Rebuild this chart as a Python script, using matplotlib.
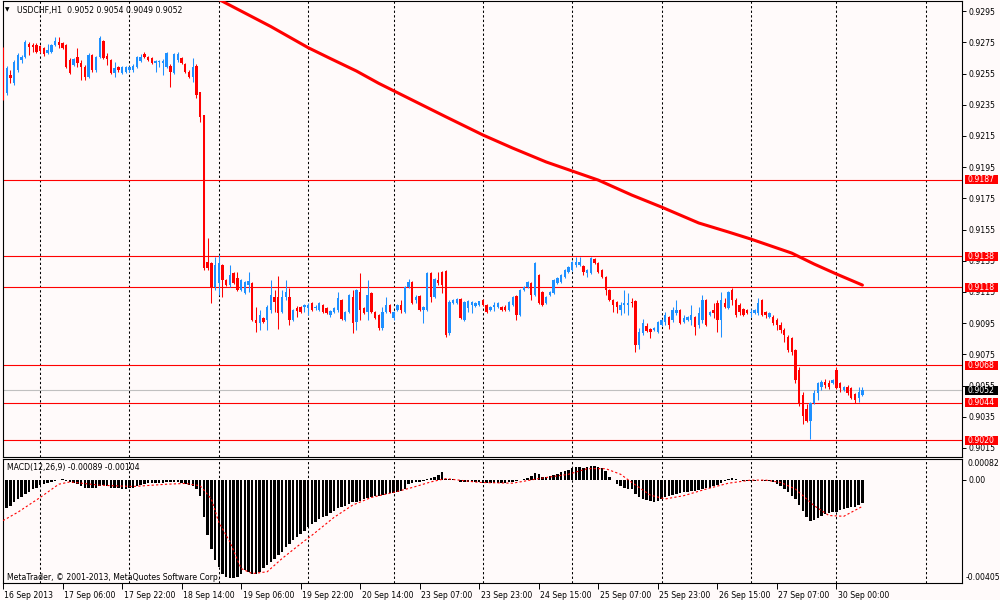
import matplotlib
matplotlib.use('Agg')
import matplotlib.pyplot as plt
import matplotlib.transforms as mtransforms
from matplotlib.patches import Rectangle
import numpy as np

plt.rcParams['font.family'] = ['DejaVu Sans']
FS = 5.6

# ---------------- data (USDCHF H1) ----------------
opens = [0.92700, 0.92425, 0.92540, 0.92489, 0.92572, 0.92636, 0.92656, 0.92739, 0.92732, 0.92732,
         0.92726, 0.92713, 0.92681, 0.92688, 0.92732, 0.92752, 0.92745, 0.92732, 0.92636, 0.92604,
         0.92656, 0.92617, 0.92592, 0.92527, 0.92668, 0.92572, 0.92656, 0.92758, 0.92662, 0.92636,
         0.92553, 0.92592, 0.92553, 0.92559, 0.92572, 0.92572, 0.92592, 0.92630, 0.92675, 0.92656,
         0.92649, 0.92617, 0.92624, 0.92617, 0.92592, 0.92598, 0.92553, 0.92636, 0.92649, 0.92611,
         0.92559, 0.92527, 0.92598, 0.92431, 0.92284, 0.91342, 0.91335, 0.91181, 0.91207, 0.91322,
         0.91226, 0.91194, 0.91271, 0.91239, 0.91162, 0.91143, 0.91194, 0.91207, 0.90970, 0.90951,
         0.90983, 0.90970, 0.91034, 0.91117, 0.91117, 0.91021, 0.91117, 0.91117, 0.90970, 0.91047,
         0.91053, 0.91053, 0.91047, 0.91079, 0.91047, 0.91034, 0.91066, 0.91047, 0.91002, 0.91021,
         0.91034, 0.91098, 0.90970, 0.91021, 0.91117, 0.90957, 0.91149, 0.91047, 0.91021, 0.91143,
         0.91021, 0.91002, 0.90919, 0.91021, 0.91066, 0.90983, 0.91034, 0.91066, 0.91021, 0.91181,
         0.91213, 0.91098, 0.91124, 0.91034, 0.91034, 0.91271, 0.91117, 0.91226, 0.91278, 0.91284,
         0.90887, 0.91079, 0.91079, 0.91104, 0.90970, 0.91047, 0.91066, 0.91060, 0.91066, 0.91098,
         0.91066, 0.91034, 0.91053, 0.91053, 0.91053, 0.91053, 0.91034, 0.91066, 0.91124, 0.91002,
         0.91162, 0.91181, 0.91207, 0.91130, 0.91258, 0.91149, 0.91079, 0.91130, 0.91143, 0.91207,
         0.91213, 0.91245, 0.91278, 0.91290, 0.91322, 0.91322, 0.91316, 0.91271, 0.91271, 0.91361,
         0.91335, 0.91290, 0.91245, 0.91162, 0.91098, 0.91085, 0.91034, 0.91066, 0.91066, 0.91085,
         0.91092, 0.90810, 0.90887, 0.90931, 0.90912, 0.90906, 0.90893, 0.90938, 0.90957, 0.90989,
         0.90970, 0.91015, 0.91034, 0.90957, 0.90970, 0.90970, 0.90989, 0.90938, 0.90970, 0.91098,
         0.91002, 0.91034, 0.91079, 0.90970, 0.91079, 0.91047, 0.91162, 0.91098, 0.91066, 0.91040,
         0.91034, 0.91015, 0.91015, 0.91015, 0.91098, 0.91021, 0.90989, 0.90989, 0.90970, 0.90938,
         0.90906, 0.90861, 0.90855, 0.90778, 0.90649, 0.90489, 0.90399, 0.90322, 0.90438, 0.90502,
         0.90540, 0.90572, 0.90566, 0.90566, 0.90649, 0.90566, 0.90521, 0.90540, 0.90534, 0.90496,
         0.90470, 0.90489]

highs = [0.92720, 0.92598, 0.92572, 0.92636, 0.92681, 0.92668, 0.92765, 0.92752, 0.92745, 0.92745,
         0.92732, 0.92720, 0.92739, 0.92739, 0.92784, 0.92784, 0.92752, 0.92739, 0.92649, 0.92649,
         0.92713, 0.92636, 0.92604, 0.92681, 0.92675, 0.92662, 0.92790, 0.92765, 0.92681, 0.92643,
         0.92624, 0.92598, 0.92598, 0.92598, 0.92598, 0.92611, 0.92662, 0.92675, 0.92688, 0.92662,
         0.92656, 0.92636, 0.92636, 0.92643, 0.92688, 0.92611, 0.92681, 0.92688, 0.92656, 0.92617,
         0.92572, 0.92649, 0.92611, 0.92431, 0.92284, 0.91495, 0.91342, 0.91374, 0.91386, 0.91329,
         0.91233, 0.91322, 0.91278, 0.91278, 0.91233, 0.91220, 0.91278, 0.91213, 0.91053, 0.91034,
         0.90989, 0.91066, 0.91226, 0.91162, 0.91252, 0.91162, 0.91226, 0.91175, 0.91040, 0.91060,
         0.91060, 0.91072, 0.91079, 0.91085, 0.91066, 0.91085, 0.91072, 0.91053, 0.91034, 0.91053,
         0.91149, 0.91104, 0.91028, 0.91137, 0.91162, 0.91169, 0.91271, 0.91053, 0.91226, 0.91149,
         0.91028, 0.91008, 0.91053, 0.91117, 0.91072, 0.91028, 0.91072, 0.91098, 0.91188, 0.91233,
         0.91220, 0.91130, 0.91130, 0.91060, 0.91278, 0.91278, 0.91239, 0.91278, 0.91284, 0.91290,
         0.91098, 0.91104, 0.91111, 0.91111, 0.91092, 0.91098, 0.91092, 0.91085, 0.91092, 0.91104,
         0.91072, 0.91060, 0.91085, 0.91085, 0.91060, 0.91066, 0.91092, 0.91124, 0.91130, 0.91169,
         0.91188, 0.91220, 0.91213, 0.91342, 0.91265, 0.91156, 0.91124, 0.91156, 0.91233, 0.91245,
         0.91265, 0.91297, 0.91316, 0.91348, 0.91374, 0.91374, 0.91322, 0.91297, 0.91374, 0.91368,
         0.91342, 0.91297, 0.91252, 0.91169, 0.91104, 0.91092, 0.91085, 0.91162, 0.91143, 0.91111,
         0.91098, 0.90919, 0.90976, 0.90951, 0.90919, 0.90925, 0.90964, 0.90976, 0.91021, 0.90995,
         0.91053, 0.91098, 0.91040, 0.91002, 0.90995, 0.91066, 0.90995, 0.91053, 0.91130, 0.91104,
         0.91028, 0.91079, 0.91098, 0.91149, 0.91111, 0.91156, 0.91175, 0.91111, 0.91079, 0.91047,
         0.91040, 0.91040, 0.91040, 0.91111, 0.91104, 0.91028, 0.91021, 0.91002, 0.90983, 0.90957,
         0.90919, 0.90874, 0.90861, 0.90784, 0.90668, 0.90508, 0.90431, 0.90444, 0.90521, 0.90572,
         0.90585, 0.90592, 0.90585, 0.90592, 0.90668, 0.90572, 0.90547, 0.90553, 0.90540, 0.90502,
         0.90540, 0.90540]

lows = [0.92380, 0.92412, 0.92489, 0.92476, 0.92559, 0.92617, 0.92649, 0.92668, 0.92688, 0.92681,
        0.92681, 0.92662, 0.92675, 0.92681, 0.92726, 0.92713, 0.92707, 0.92585, 0.92547, 0.92598,
        0.92592, 0.92508, 0.92508, 0.92521, 0.92559, 0.92559, 0.92649, 0.92643, 0.92604, 0.92547,
        0.92527, 0.92559, 0.92547, 0.92553, 0.92559, 0.92559, 0.92585, 0.92624, 0.92649, 0.92630,
        0.92611, 0.92559, 0.92592, 0.92540, 0.92585, 0.92463, 0.92547, 0.92624, 0.92611, 0.92553,
        0.92521, 0.92495, 0.92393, 0.92239, 0.91290, 0.91290, 0.91079, 0.91162, 0.91130, 0.91117,
        0.91188, 0.91181, 0.91201, 0.91156, 0.91156, 0.91137, 0.91149, 0.90964, 0.90893, 0.90906,
        0.90951, 0.90906, 0.91015, 0.91021, 0.90912, 0.91015, 0.91098, 0.90938, 0.90964, 0.90989,
        0.91015, 0.91021, 0.91002, 0.91028, 0.91034, 0.91028, 0.91015, 0.91008, 0.90989, 0.91015,
        0.91021, 0.90970, 0.90964, 0.91015, 0.90887, 0.90906, 0.90970, 0.91008, 0.90970, 0.91015,
        0.90976, 0.90906, 0.90906, 0.91015, 0.91015, 0.90970, 0.91028, 0.91015, 0.91015, 0.91175,
        0.91072, 0.91079, 0.91028, 0.90951, 0.91028, 0.91085, 0.91111, 0.91194, 0.91143, 0.90861,
        0.90874, 0.91072, 0.91072, 0.90976, 0.90964, 0.91021, 0.91015, 0.91053, 0.91060, 0.91060,
        0.91015, 0.91028, 0.91028, 0.91047, 0.91028, 0.91028, 0.91028, 0.91060, 0.90970, 0.90995,
        0.91156, 0.91175, 0.91098, 0.91124, 0.91072, 0.91060, 0.91072, 0.91124, 0.91137, 0.91201,
        0.91207, 0.91239, 0.91271, 0.91284, 0.91310, 0.91316, 0.91258, 0.91245, 0.91265, 0.91329,
        0.91271, 0.91239, 0.91130, 0.91092, 0.91021, 0.91015, 0.91002, 0.91015, 0.91002, 0.91053,
        0.90765, 0.90784, 0.90874, 0.90893, 0.90855, 0.90900, 0.90887, 0.90931, 0.90938, 0.90912,
        0.90957, 0.91002, 0.90944, 0.90951, 0.90964, 0.90938, 0.90874, 0.90919, 0.90951, 0.90931,
        0.90995, 0.90983, 0.90893, 0.90861, 0.91047, 0.91040, 0.91066, 0.90989, 0.91002, 0.90995,
        0.91008, 0.90989, 0.91008, 0.91002, 0.90995, 0.90983, 0.90983, 0.90938, 0.90906, 0.90887,
        0.90829, 0.90765, 0.90745, 0.90566, 0.90418, 0.90303, 0.90316, 0.90207, 0.90431, 0.90457,
        0.90521, 0.90534, 0.90527, 0.90560, 0.90527, 0.90508, 0.90515, 0.90489, 0.90465, 0.90438,
        0.90444, 0.90483]

closes = [0.92393, 0.92585, 0.92521, 0.92624, 0.92668, 0.92656, 0.92752, 0.92720, 0.92720, 0.92688,
          0.92694, 0.92675, 0.92700, 0.92732, 0.92758, 0.92732, 0.92713, 0.92592, 0.92553, 0.92643,
          0.92617, 0.92592, 0.92527, 0.92668, 0.92572, 0.92656, 0.92777, 0.92649, 0.92643, 0.92553,
          0.92585, 0.92572, 0.92592, 0.92592, 0.92592, 0.92598, 0.92656, 0.92656, 0.92656, 0.92636,
          0.92617, 0.92630, 0.92630, 0.92630, 0.92681, 0.92559, 0.92675, 0.92675, 0.92617, 0.92559,
          0.92527, 0.92592, 0.92412, 0.92271, 0.91303, 0.91303, 0.91175, 0.91322, 0.91335, 0.91226,
          0.91194, 0.91258, 0.91207, 0.91162, 0.91226, 0.91213, 0.91220, 0.90970, 0.90951, 0.91002,
          0.90957, 0.91053, 0.91130, 0.91085, 0.91015, 0.91117, 0.91149, 0.90970, 0.91034, 0.91028,
          0.91021, 0.91066, 0.91066, 0.91034, 0.91053, 0.91079, 0.91021, 0.91015, 0.91028, 0.91047,
          0.91111, 0.90976, 0.91021, 0.91130, 0.90951, 0.91162, 0.91034, 0.91015, 0.91130, 0.91021,
          0.90983, 0.90919, 0.91021, 0.91066, 0.91021, 0.91021, 0.91066, 0.91034, 0.91181, 0.91213,
          0.91079, 0.91117, 0.91034, 0.91053, 0.91271, 0.91117, 0.91233, 0.91207, 0.91194, 0.90874,
          0.91085, 0.91098, 0.91104, 0.90983, 0.91085, 0.91092, 0.91085, 0.91079, 0.91092, 0.91066,
          0.91021, 0.91053, 0.91066, 0.91079, 0.91034, 0.91034, 0.91085, 0.91117, 0.91002, 0.91162,
          0.91181, 0.91213, 0.91130, 0.91335, 0.91079, 0.91066, 0.91117, 0.91149, 0.91226, 0.91239,
          0.91258, 0.91290, 0.91310, 0.91342, 0.91342, 0.91342, 0.91278, 0.91290, 0.91368, 0.91335,
          0.91278, 0.91245, 0.91162, 0.91098, 0.91066, 0.91053, 0.91066, 0.91079, 0.91079, 0.91079,
          0.90810, 0.90893, 0.90951, 0.90900, 0.90893, 0.90919, 0.90957, 0.90970, 0.91002, 0.90938,
          0.91034, 0.91034, 0.90951, 0.90983, 0.90989, 0.91002, 0.90925, 0.91015, 0.91098, 0.90938,
          0.91021, 0.91015, 0.90970, 0.91098, 0.91053, 0.91149, 0.91098, 0.91002, 0.91021, 0.91002,
          0.91015, 0.91021, 0.91034, 0.91079, 0.91002, 0.91002, 0.91015, 0.90951, 0.90938, 0.90906,
          0.90874, 0.90778, 0.90765, 0.90585, 0.90438, 0.90354, 0.90322, 0.90438, 0.90502, 0.90566,
          0.90572, 0.90553, 0.90540, 0.90585, 0.90534, 0.90534, 0.90540, 0.90502, 0.90470, 0.90457,
          0.90508, 0.90521]

# moving average (thick red line): bar index / value
ma_bars = [58, 72, 82, 88, 95, 101, 110, 119, 129, 137, 146, 153, 160, 169, 177, 187, 195, 201, 212, 218, 224, 231]
ma_vals = [0.93025, 0.92851, 0.92716, 0.92646, 0.92566, 0.92487, 0.92380, 0.92273, 0.92156, 0.92072,
           0.91983, 0.91925, 0.91867, 0.91771, 0.91694, 0.91592, 0.91534, 0.91489, 0.91399, 0.91329,
           0.91265, 0.91194]

# MACD(12,26,9) main histogram, units of 1e-5
macd_main = [-114, -110, -101, -88, -75, -69, -56, -47, -36, -30,
             -21, -17, -13, -10, -6, -1, 3, -4, -10, -14,
             -17, -23, -30, -30, -32, -30, -23, -21, -23, -30,
             -32, -32, -34, -34, -32, -30, -23, -19, -16, -13,
             -13, -14, -14, -14, -10, -10, -10, -10, -13, -17,
             -21, -23, -34, -62, -147, -218, -270, -316, -342, -368,
             -381, -385, -385, -381, -368, -355, -361, -368, -368, -361,
             -348, -335, -322, -309, -296, -283, -264, -251, -238, -225,
             -212, -199, -186, -173, -164, -153, -147, -140, -130, -121,
             -112, -108, -101, -95, -88, -86, -82, -75, -71, -69,
             -65, -62, -60, -56, -52, -52, -49, -43, -34, -17,
             -13, -10, -8, -5, 3, 7, 13, 20, 29, 3,
             5, 3, 0, -10, -10, -10, -10, -10, -10, -13,
             -14, -14, -14, -14, -14, -14, -10, -8, -5, 0,
             3, 9, 16, 26, 22, 13, 13, 16, 18, 22,
             29, 35, 39, 48, 52, 52, 48, 52, 55, 55,
             52, 48, 35, 13, 0, -17, -26, -30, -34, -36,
             -56, -69, -75, -79, -82, -85, -82, -75, -69, -65,
             -60, -56, -52, -49, -47, -43, -43, -39, -34, -32,
             -30, -26, -21, -13, -4, 3, 6, 3, 0, -3,
             -3, -3, -3, -1, -3, -4, -6, -10, -17, -26,
             -34, -47, -62, -75, -99, -121, -147, -160, -156, -151,
             -140, -134, -130, -125, -125, -117, -114, -112, -108, -105,
             -97, -89]

# MACD signal (red dashed), units of 1e-5
sig_bars = [0, 4, 10, 15, 18, 26, 35, 44, 49, 53, 56, 58, 61, 64, 67, 71, 75, 80, 83, 89, 94, 99,
            105, 110, 115, 119, 128, 137, 144, 152, 157, 162, 166, 169, 174, 178, 183, 189, 195,
            201, 205, 209, 213, 218, 222, 226, 231]
sig_vals = [-160, -127, -69, -17, -8, -21, -26, -17, -14, -23, -75, -166, -244, -348, -368, -361, -309,
            -251, -218, -147, -99, -69, -49, -30, -8, 5, -10, -13, 5, 22, 44, 44, 22, -10, -60, -75,
            -62, -36, -13, -1, -1, -10, -36, -101, -140, -143, -104]

level_lines = [0.9187, 0.9138, 0.9118, 0.9068, 0.9044, 0.9020]
current_price = 0.9052
price_ticks = [0.9295, 0.9275, 0.9255, 0.9235, 0.9215, 0.9195, 0.9175, 0.9155,
               0.9135, 0.9115, 0.9095, 0.9075, 0.9055, 0.9035, 0.9015]
time_labels = ['16 Sep 2013', '17 Sep 06:00', '17 Sep 22:00', '18 Sep 14:00', '19 Sep 06:00',
               '19 Sep 22:00', '20 Sep 14:00', '23 Sep 07:00', '23 Sep 23:00', '24 Sep 15:00',
               '25 Sep 07:00', '25 Sep 23:00', '26 Sep 15:00', '27 Sep 07:00', '30 Sep 00:00']
label_bars = [0, 16, 32, 48, 64, 80, 96, 112, 128, 144, 160, 176, 192, 208, 224]
day_bars = [10, 34, 58, 82, 105, 129, 153, 177, 201, 224, 248]

# ---------------- figure ----------------
BG = '#fffafa'
fig = plt.figure(figsize=(10, 6), dpi=100, facecolor=BG)
ax = fig.add_axes([0.0025, 1 - 457 / 600, 0.96, 456.5 / 600], facecolor=BG)
axm = fig.add_axes([0.0025, 1 - 583 / 600, 0.96, 124 / 600], facecolor=BG, sharex=ax)

idx = np.arange(len(closes))
o = np.array(opens)
c = np.array(closes)
h = np.array(highs)
l = np.array(lows)
up = c >= o
cols = np.where(up, '#1e90ff', '#ff0000')

grid_ls = (0, (2.2, 2.2))
for d in day_bars:
    ax.axvline(d, color='black', lw=0.75, ls=grid_ls, zorder=1)
    axm.axvline(d, color='black', lw=0.75, ls=grid_ls, zorder=1)

for v in level_lines:
    ax.axhline(v, color='#ff0000', lw=0.8, zorder=2)
ax.axhline(current_price, color='#c0c0c0', lw=0.8, zorder=2)

ax.vlines(idx, l, h, colors=cols, lw=0.75, zorder=3)
bottoms = np.minimum(o, c)
heights = np.maximum(np.abs(c - o), 0.00003)
ax.bar(idx, heights, bottom=bottoms, width=0.64, color=cols, lw=0, zorder=4)

ax.plot(ma_bars, ma_vals, color='#ff0000', lw=2.2, solid_capstyle='round',
        solid_joinstyle='round', zorder=5)

ax.set_xlim(-0.13, 257.9)
ax.set_ylim(0.90092, 0.93018)
ax.yaxis.tick_right()
ax.set_yticks(price_ticks)
ax.set_yticklabels([f'{v:.4f}' for v in price_ticks])
ax.tick_params(axis='y', direction='out', length=3, width=0.7, pad=1.5, labelsize=FS, colors='black')
ax.tick_params(axis='x', bottom=False, labelbottom=False)
for sp in ax.spines.values():
    sp.set_linewidth(0.8)
    sp.set_color('black')

# price labels on right
trans = mtransforms.blended_transform_factory(ax.transAxes, ax.transData)
box_h = 0.00058
box_w = 33 / 960
for v in level_lines:
    ax.add_patch(Rectangle((1.0026, v - box_h / 2), box_w, box_h, transform=trans,
                           facecolor='#ff0000', edgecolor='none', clip_on=False, zorder=10))
    ax.text(1.0048, v, f'{v:.4f}', transform=trans, ha='left', va='center', fontsize=FS,
            color='white', zorder=11, clip_on=False)
ax.add_patch(Rectangle((1.0026, current_price - box_h / 2), box_w, box_h, transform=trans,
                       facecolor='black', edgecolor='none', clip_on=False, zorder=10))
ax.text(1.0048, current_price, f'{current_price:.4f}', transform=trans, ha='left', va='center',
        fontsize=FS, color='white', zorder=11, clip_on=False)

# MACD panel
axm.bar(idx, np.array(macd_main) * 1e-5, width=0.66, color='black', lw=0, zorder=3)
axm.plot(sig_bars, np.array(sig_vals) * 1e-5, color='#ff0000', lw=0.8, ls=(0, (2, 2)), zorder=4)
axm.set_ylim(-0.00405, 0.00082)
axm.yaxis.tick_right()
axm.set_yticks([0.0])
axm.set_yticklabels(['0.00'])
axm.tick_params(axis='y', direction='out', length=3, width=0.7, pad=1.5, labelsize=FS, colors='black')
axm.set_xticks(label_bars)
axm.set_xticklabels(time_labels)
axm.tick_params(axis='x', direction='out', length=4, width=0.7, pad=1.5, labelsize=FS, colors='black')
offset = mtransforms.ScaledTranslation(1.5 / 100, 0, fig.dpi_scale_trans)
for lbl in axm.get_xticklabels():
    lbl.set_horizontalalignment('left')
    lbl.set_transform(lbl.get_transform() + offset)
for sp in axm.spines.values():
    sp.set_linewidth(0.8)
    sp.set_color('black')

# texts
fig.text(967 / 1000, 1 - 464 / 600, '0.00082', fontsize=FS, va='center', ha='left')
fig.text(966 / 1000, 1 - 577 / 600, '-0.00405', fontsize=FS, va='center', ha='left')
fig.text(5 / 1000, 1 - 10 / 600, '\u25BC', fontsize=4.2, va='center', ha='left')
fig.text(17 / 1000, 1 - 10 / 600, 'USDCHF,H1  0.9052 0.9054 0.9049 0.9052', fontsize=FS,
         va='center', ha='left')
fig.text(7 / 1000, 1 - 467.5 / 600, 'MACD(12,26,9) -0.00089 -0.00104', fontsize=FS,
         va='center', ha='left')
fig.text(7 / 1000, 1 - 577 / 600, 'MetaTrader, \u00a9 2001-2013, MetaQuotes Software Corp.',
         fontsize=FS, va='center', ha='left')

fig.savefig('out.png', dpi=100, facecolor=BG)
